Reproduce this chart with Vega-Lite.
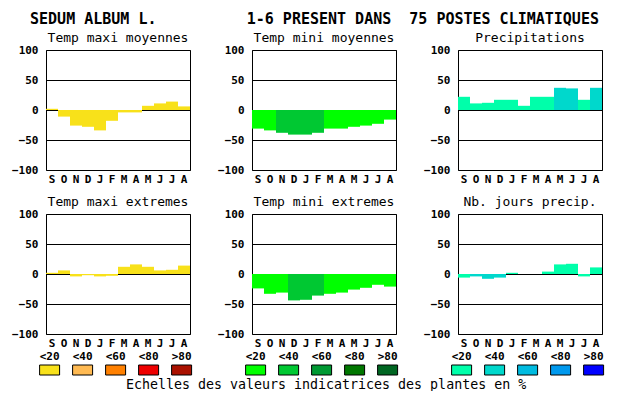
{
  "$schema": "https://vega.github.io/schema/vega-lite/v6.json",
  "background": "white",
  "padding": {"left": 11, "top": 11, "right": 0, "bottom": 0},
  "title": {
    "text": "SEDUM ALBUM L.\u00a0\u00a0\u00a0\u00a0\u00a0\u00a0\u00a0\u00a0\u00a0\u00a01-6\u00a0PRESENT\u00a0DANS\u00a0\u00a075\u00a0POSTES\u00a0CLIMATIQUES",
    "anchor": "start", "fontSize": 15, "fontWeight": "bold", "offset": 5, "dx": 19
  },
  "datasets": {
    "tmaxmoy": [
      {"mois": "sept", "valeur": 2, "classe": "<20"}, {"mois": "oct", "valeur": -11, "classe": "<20"},
      {"mois": "nov", "valeur": -26, "classe": "<20"}, {"mois": "dec", "valeur": -28, "classe": "<20"},
      {"mois": "janv", "valeur": -34, "classe": "<20"}, {"mois": "fevr", "valeur": -18, "classe": "<20"},
      {"mois": "mars", "valeur": -4, "classe": "<20"}, {"mois": "avr", "valeur": -4, "classe": "<20"},
      {"mois": "mai", "valeur": 7, "classe": "<20"}, {"mois": "juin", "valeur": 11, "classe": "<20"},
      {"mois": "juil", "valeur": 14, "classe": "<20"}, {"mois": "aout", "valeur": 6, "classe": "<20"}
    ],
    "tminmoy": [
      {"mois": "sept", "valeur": -31, "classe": "<20"}, {"mois": "oct", "valeur": -34, "classe": "<20"},
      {"mois": "nov", "valeur": -38, "classe": "<40"}, {"mois": "dec", "valeur": -41, "classe": "<40"},
      {"mois": "janv", "valeur": -41, "classe": "<40"}, {"mois": "fevr", "valeur": -38, "classe": "<40"},
      {"mois": "mars", "valeur": -31, "classe": "<20"}, {"mois": "avr", "valeur": -31, "classe": "<20"},
      {"mois": "mai", "valeur": -28, "classe": "<20"}, {"mois": "juin", "valeur": -26, "classe": "<20"},
      {"mois": "juil", "valeur": -23, "classe": "<20"}, {"mois": "aout", "valeur": -16, "classe": "<20"}
    ],
    "precip": [
      {"mois": "sept", "valeur": 22, "classe": "<20"}, {"mois": "oct", "valeur": 11, "classe": "<20"},
      {"mois": "nov", "valeur": 12, "classe": "<20"}, {"mois": "dec", "valeur": 17, "classe": "<20"},
      {"mois": "janv", "valeur": 17, "classe": "<20"}, {"mois": "fevr", "valeur": 7, "classe": "<20"},
      {"mois": "mars", "valeur": 22, "classe": "<20"}, {"mois": "avr", "valeur": 22, "classe": "<20"},
      {"mois": "mai", "valeur": 37, "classe": "<40"}, {"mois": "juin", "valeur": 36, "classe": "<40"},
      {"mois": "juil", "valeur": 17, "classe": "<20"}, {"mois": "aout", "valeur": 37, "classe": "<40"}
    ],
    "tmaxext": [
      {"mois": "sept", "valeur": 2, "classe": "<20"}, {"mois": "oct", "valeur": 6, "classe": "<20"},
      {"mois": "nov", "valeur": -4, "classe": "<20"}, {"mois": "dec", "valeur": -2, "classe": "<20"},
      {"mois": "janv", "valeur": -4, "classe": "<20"}, {"mois": "fevr", "valeur": -3, "classe": "<20"},
      {"mois": "mars", "valeur": 12, "classe": "<20"}, {"mois": "avr", "valeur": 16, "classe": "<20"},
      {"mois": "mai", "valeur": 12, "classe": "<20"}, {"mois": "juin", "valeur": 6, "classe": "<20"},
      {"mois": "juil", "valeur": 7, "classe": "<20"}, {"mois": "aout", "valeur": 14, "classe": "<20"}
    ],
    "tminext": [
      {"mois": "sept", "valeur": -24, "classe": "<20"}, {"mois": "oct", "valeur": -33, "classe": "<20"},
      {"mois": "nov", "valeur": -31, "classe": "<20"}, {"mois": "dec", "valeur": -44, "classe": "<40"},
      {"mois": "janv", "valeur": -43, "classe": "<40"}, {"mois": "fevr", "valeur": -36, "classe": "<40"},
      {"mois": "mars", "valeur": -33, "classe": "<20"}, {"mois": "avr", "valeur": -31, "classe": "<20"},
      {"mois": "mai", "valeur": -26, "classe": "<20"}, {"mois": "juin", "valeur": -23, "classe": "<20"},
      {"mois": "juil", "valeur": -18, "classe": "<20"}, {"mois": "aout", "valeur": -21, "classe": "<20"}
    ],
    "jours": [
      {"mois": "sept", "valeur": -6, "classe": "<20"}, {"mois": "oct", "valeur": -4, "classe": "<40"},
      {"mois": "nov", "valeur": -8, "classe": "<40"}, {"mois": "dec", "valeur": -6, "classe": "<40"},
      {"mois": "janv", "valeur": 2, "classe": "<20"}, {"mois": "fevr", "valeur": 0, "classe": "<20"},
      {"mois": "mars", "valeur": 0, "classe": "<20"}, {"mois": "avr", "valeur": 4, "classe": "<20"},
      {"mois": "mai", "valeur": 16, "classe": "<20"}, {"mois": "juin", "valeur": 17, "classe": "<20"},
      {"mois": "juil", "valeur": -4, "classe": "<20"}, {"mois": "aout", "valeur": 11, "classe": "<20"}
    ],
    "classes": [
      {"classe": "<20"}, {"classe": "<40"}, {"classe": "<60"}, {"classe": "<80"}, {"classe": ">80"}
    ]
  },
  "vconcat": [
    {
      "columns": 3,
      "bounds": "flush",
      "spacing": {"row": 44, "column": 62},
      "resolve": {"scale": {"x": "independent", "y": "independent", "color": "independent"}},
      "concat": [
        {
          "title": "Temp maxi moyennes", "width": 144, "height": 120,
          "data": {"name": "tmaxmoy"}, "mark": "bar",
          "encoding": {
            "x": {"field": "mois", "type": "nominal", "sort": null, "scale": {"paddingInner": 0, "paddingOuter": 0}, "axis": {"title": null, "labelExpr": "upper(slice(datum.label,0,1))"}},
            "y": {"field": "valeur", "type": "quantitative", "scale": {"domain": [-100, 100], "nice": false}, "axis": {"title": null, "values": [-100, -50, 0, 50, 100]}},
            "color": {"field": "classe", "type": "nominal", "scale": {"domain": ["<20", "<40", "<60", "<80", ">80"], "range": ["#F8E11A", "#FFBA52", "#FF8000", "#EE0000", "#AA1100"]}, "legend": null}
          }
        },
        {
          "title": "Temp mini moyennes", "width": 144, "height": 120,
          "data": {"name": "tminmoy"}, "mark": "bar",
          "encoding": {
            "x": {"field": "mois", "type": "nominal", "sort": null, "scale": {"paddingInner": 0, "paddingOuter": 0}, "axis": {"title": null, "labelExpr": "upper(slice(datum.label,0,1))"}},
            "y": {"field": "valeur", "type": "quantitative", "scale": {"domain": [-100, 100], "nice": false}, "axis": {"title": null, "values": [-100, -50, 0, 50, 100]}},
            "color": {"field": "classe", "type": "nominal", "scale": {"domain": ["<20", "<40", "<60", "<80", ">80"], "range": ["#00FF00", "#00C832", "#009933", "#007700", "#006622"]}, "legend": null}
          }
        },
        {
          "title": "Precipitations", "width": 144, "height": 120,
          "data": {"name": "precip"}, "mark": "bar",
          "encoding": {
            "x": {"field": "mois", "type": "nominal", "sort": null, "scale": {"paddingInner": 0, "paddingOuter": 0}, "axis": {"title": null, "labelExpr": "upper(slice(datum.label,0,1))"}},
            "y": {"field": "valeur", "type": "quantitative", "scale": {"domain": [-100, 100], "nice": false}, "axis": {"title": null, "values": [-100, -50, 0, 50, 100]}},
            "color": {"field": "classe", "type": "nominal", "scale": {"domain": ["<20", "<40", "<60", "<80", ">80"], "range": ["#00FFAA", "#00D8CC", "#00BBE0", "#0099EE", "#0000FF"]}, "legend": null}
          }
        },
        {
          "title": "Temp maxi extremes", "width": 144, "height": 120,
          "data": {"name": "tmaxext"}, "mark": "bar",
          "encoding": {
            "x": {"field": "mois", "type": "nominal", "sort": null, "scale": {"paddingInner": 0, "paddingOuter": 0}, "axis": {"title": null, "labelExpr": "upper(slice(datum.label,0,1))"}},
            "y": {"field": "valeur", "type": "quantitative", "scale": {"domain": [-100, 100], "nice": false}, "axis": {"title": null, "values": [-100, -50, 0, 50, 100]}},
            "color": {"field": "classe", "type": "nominal", "scale": {"domain": ["<20", "<40", "<60", "<80", ">80"], "range": ["#F8E11A", "#FFBA52", "#FF8000", "#EE0000", "#AA1100"]}, "legend": null}
          }
        },
        {
          "title": "Temp mini extremes", "width": 144, "height": 120,
          "data": {"name": "tminext"}, "mark": "bar",
          "encoding": {
            "x": {"field": "mois", "type": "nominal", "sort": null, "scale": {"paddingInner": 0, "paddingOuter": 0}, "axis": {"title": null, "labelExpr": "upper(slice(datum.label,0,1))"}},
            "y": {"field": "valeur", "type": "quantitative", "scale": {"domain": [-100, 100], "nice": false}, "axis": {"title": null, "values": [-100, -50, 0, 50, 100]}},
            "color": {"field": "classe", "type": "nominal", "scale": {"domain": ["<20", "<40", "<60", "<80", ">80"], "range": ["#00FF00", "#00C832", "#009933", "#007700", "#006622"]}, "legend": null}
          }
        },
        {
          "title": "Nb. jours precip.", "width": 144, "height": 120,
          "data": {"name": "jours"}, "mark": "bar",
          "encoding": {
            "x": {"field": "mois", "type": "nominal", "sort": null, "scale": {"paddingInner": 0, "paddingOuter": 0}, "axis": {"title": null, "labelExpr": "upper(slice(datum.label,0,1))"}},
            "y": {"field": "valeur", "type": "quantitative", "scale": {"domain": [-100, 100], "nice": false}, "axis": {"title": null, "values": [-100, -50, 0, 50, 100]}},
            "color": {"field": "classe", "type": "nominal", "scale": {"domain": ["<20", "<40", "<60", "<80", ">80"], "range": ["#00FFAA", "#00D8CC", "#00BBE0", "#0099EE", "#0000FF"]}, "legend": null}
          }
        }
      ]
    },
    {
      "bounds": "flush",
      "spacing": 62,
      "resolve": {"scale": {"x": "independent", "color": "independent"}},
      "title": {"text": "Echelles des valeurs indicatrices des plantes en %", "orient": "bottom", "anchor": "middle", "baseline": "top", "offset": 2, "fontSize": 13.3, "fontWeight": "normal", "dx": -5},
      "hconcat": [
        {
          "width": 144, "height": 10, "view": {"stroke": null},
          "data": {"name": "classes"},
          "mark": {"type": "rect", "width": 20, "stroke": "black", "strokeWidth": 1},
          "encoding": {
            "x": {"field": "classe", "type": "nominal", "sort": null, "scale": {"range": [-12.9, 152.1], "paddingInner": 0, "paddingOuter": 0}, "axis": {"title": null, "orient": "top", "labelPadding": 4, "grid": false}},
            "color": {"field": "classe", "type": "nominal", "scale": {"domain": ["<20", "<40", "<60", "<80", ">80"], "range": ["#F8E11A", "#FFBA52", "#FF8000", "#EE0000", "#AA1100"]}, "legend": null}
          }
        },
        {
          "width": 144, "height": 10, "view": {"stroke": null},
          "data": {"name": "classes"},
          "mark": {"type": "rect", "width": 20, "stroke": "black", "strokeWidth": 1},
          "encoding": {
            "x": {"field": "classe", "type": "nominal", "sort": null, "scale": {"range": [-12.9, 152.1], "paddingInner": 0, "paddingOuter": 0}, "axis": {"title": null, "orient": "top", "labelPadding": 4, "grid": false}},
            "color": {"field": "classe", "type": "nominal", "scale": {"domain": ["<20", "<40", "<60", "<80", ">80"], "range": ["#00FF00", "#00C832", "#009933", "#007700", "#006622"]}, "legend": null}
          }
        },
        {
          "width": 144, "height": 10, "view": {"stroke": null},
          "data": {"name": "classes"},
          "mark": {"type": "rect", "width": 20, "stroke": "black", "strokeWidth": 1},
          "encoding": {
            "x": {"field": "classe", "type": "nominal", "sort": null, "scale": {"range": [-12.9, 152.1], "paddingInner": 0, "paddingOuter": 0}, "axis": {"title": null, "orient": "top", "labelPadding": 4, "grid": false}},
            "color": {"field": "classe", "type": "nominal", "scale": {"domain": ["<20", "<40", "<60", "<80", ">80"], "range": ["#00FFAA", "#00D8CC", "#00BBE0", "#0099EE", "#0000FF"]}, "legend": null}
          }
        }
      ]
    }
  ],
  "spacing": 1,
  "resolve": {"scale": {"x": "independent", "y": "independent", "color": "independent"}},
  "config": {
    "font": "DejaVu Sans Mono",
    "view": {"stroke": "black", "strokeWidth": 1, "fill": "white"},
    "axis": {"labelFont": "DejaVu Sans Mono", "labelFontWeight": "bold", "labelFontSize": 11, "labelColor": "black", "ticks": false, "tickSize": 0, "domain": false},
    "axisX": {"labelAngle": 0, "labelPadding": 3, "grid": false},
    "axisY": {"labelPadding": 8, "grid": true, "gridColor": "black", "gridOpacity": 1, "gridWidth": 1, "zindex": 1},
    "title": {"font": "DejaVu Sans Mono", "fontSize": 13, "fontWeight": "normal", "color": "black", "baseline": "alphabetic", "offset": -1}
  }
}
